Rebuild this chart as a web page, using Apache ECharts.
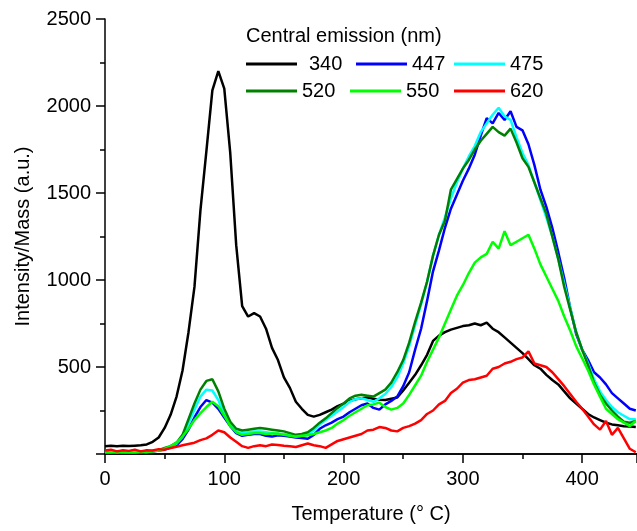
<!DOCTYPE html>
<html>
<head>
<meta charset="utf-8">
<script src="https://cdn.jsdelivr.net/npm/echarts@6/dist/echarts.min.js"></script>
<style>
html,body{margin:0;padding:0;background:#fff;}
#chart{width:637px;height:531px;}
</style>
</head>
<body>
<div id="chart"></div>
<script>
// temperature (°C)
var temps = [0,5,10,15,20,25,30,35,40,45,50,55,60,65,70,75,80,85,90,95,
  100,105,110,115,120,125,130,135,140,145,150,155,160,165,170,175,180,185,190,195,
  200,205,210,215,220,225,230,235,240,245,250,255,260,265,270,275,280,285,290,295,
  300,305,310,315,320,325,330,335,340,345,350,355,360,365,370,375,380,385,390,395,
  400,405,410,415,420,425,430,435,440,445];

// central emission 340 nm
var s340 = [45,48,45,47,46,48,50,55,70,95,150,225,330,480,700,960,1400,1740,2090,2200,
  2100,1730,1200,850,790,810,790,720,610,540,440,380,300,260,225,215,225,240,255,275,
  290,305,315,320,325,318,312,310,318,325,365,410,455,510,570,650,680,700,715,725,
  735,740,750,740,755,720,700,670,640,610,580,545,510,490,455,425,400,360,320,290,
  260,230,210,195,180,170,165,160,158,155];
// 447 nm
var s447 = [10,8,12,8,10,8,12,10,15,20,25,35,50,85,140,210,270,310,295,260,
  210,160,120,105,110,115,115,105,100,108,105,100,95,92,88,110,145,165,180,200,
  215,240,260,280,290,265,255,285,305,330,390,470,600,720,880,1050,1170,1300,1410,1490,
  1570,1640,1720,1830,1930,1900,1960,1920,1970,1880,1860,1780,1660,1520,1420,1300,1160,1010,840,690,
  600,540,470,440,400,350,320,290,260,250];
// 475 nm
var s475 = [12,10,15,10,12,10,15,12,18,22,30,40,60,100,175,255,330,370,365,310,
  230,170,130,120,125,130,130,125,120,115,115,108,100,105,110,135,170,195,220,245,
  270,300,315,320,310,300,320,345,385,440,520,620,740,860,990,1140,1260,1360,1470,1560,
  1640,1710,1770,1850,1900,1950,1990,1940,1920,1820,1730,1660,1560,1460,1360,1250,1120,980,840,700,
  600,520,430,360,310,270,240,220,200,200];
// 520 nm
var s520 = [15,10,12,8,10,12,15,12,18,22,35,45,65,110,200,290,370,420,430,360,
  260,185,145,135,140,145,150,145,140,135,130,120,110,115,125,150,180,205,235,265,
  290,320,335,340,335,330,350,370,410,470,540,640,760,870,990,1140,1260,1340,1520,1580,
  1640,1690,1750,1800,1840,1880,1850,1830,1870,1790,1700,1650,1560,1470,1380,1250,1120,960,830,700,
  600,510,410,340,290,250,215,185,180,190];
// 550 nm
var s550 = [10,12,8,12,10,12,10,12,15,20,30,45,65,100,145,195,235,270,300,275,
  220,160,125,110,115,120,120,115,118,118,110,105,100,105,108,115,125,135,150,175,
  195,220,240,260,280,285,295,270,255,265,290,340,395,450,530,600,670,750,830,910,
  970,1040,1100,1130,1150,1220,1180,1280,1200,1220,1240,1260,1180,1090,1020,950,880,790,710,620,
  550,480,400,330,260,230,200,180,160,190];
// 620 nm
var s620 = [20,25,15,22,18,25,15,22,20,28,25,35,42,50,58,65,80,90,110,135,
  125,95,70,45,35,45,50,45,55,52,48,45,40,50,60,50,45,35,55,75,
  85,95,105,115,135,140,155,150,135,130,150,160,175,195,230,250,285,305,350,375,
  410,425,430,440,450,490,500,520,530,545,555,590,520,510,500,470,430,390,345,300,
  260,215,170,140,190,110,150,90,30,10];

var names = ['340', '447', '475', '520', '550', '620'];
var colors = ['#000000', '#0000ff', '#00ffff', '#008000', '#00ff00', '#ff0000'];
var values = [s340, s447, s475, s520, s550, s620];

var font = "'Liberation Sans', Arial, sans-serif";

function pairs(arr){
  return temps.map(function(t, i){ return [t, arr[i]]; });
}

var series = names.map(function(n, i){
  return {
    name: n,
    type: 'line',
    showSymbol: false,
    symbol: 'none',
    data: pairs(values[i]),
    lineStyle: {color: colors[i], width: 2.5},
    itemStyle: {color: colors[i]},
    z: 2 + i
  };
});

// legend positions (two rows of three)
var legendPos = [
  {left: 246, top: 54, pad: 12},
  {left: 356, top: 54, pad: 5},
  {left: 454, top: 54, pad: 5},
  {left: 246, top: 81, pad: 5},
  {left: 350, top: 81, pad: 5},
  {left: 454, top: 81, pad: 5}
];
var legends = names.map(function(n, i){
  return {
    left: legendPos[i].left,
    top: legendPos[i].top,
    padding: 0,
    data: [n],
    icon: 'rect',
    itemWidth: 51,
    itemHeight: 3,
    selectedMode: false,
    textStyle: {fontSize: 20, color: '#000', fontFamily: font, padding: [0, 0, 0, legendPos[i].pad - 5]}
  };
});

var myChart = echarts.init(document.getElementById('chart'));
var option = {
  animation: false,
  backgroundColor: '#fff',
  title: {
    text: 'Central emission (nm)',
    left: 246,
    top: 26,
    padding: 0,
    textStyle: {fontSize: 20, fontWeight: 'normal', color: '#000', fontFamily: font}
  },
  legend: legends,
  grid: {left: 105, top: 19, right: 0, bottom: 77, containLabel: false},
  xAxis: [
    {
      type: 'value',
      min: 0,
      max: 446,
      interval: 100,
      name: 'Temperature (\u00b0 C)',
      nameLocation: 'middle',
      nameGap: 50,
      nameTextStyle: {fontSize: 20, color: '#000', fontFamily: font},
      axisLine: {show: true, onZero: false, lineStyle: {color: '#000', width: 1.5}},
      axisTick: {show: true, inside: false, length: 9, lineStyle: {color: '#000', width: 1.5}},
      minorTick: {show: true, splitNumber: 2, length: 5, lineStyle: {color: '#000', width: 1.5}},
      axisLabel: {fontSize: 20, color: '#000', fontFamily: font, margin: 15, showMaxLabel: false,
        formatter: function(v){ return String(v); }},
      splitLine: {show: false}
    },
    {
      type: 'value',
      position: 'top',
      min: 0,
      max: 446,
      axisLine: {show: true, lineStyle: {color: '#000', width: 1.5}},
      axisTick: {show: false},
      axisLabel: {show: false},
      splitLine: {show: false}
    }
  ],
  yAxis: {
    type: 'value',
    min: 0,
    max: 2500,
    interval: 500,
    name: 'Intensity/Mass (a.u.)',
    nameLocation: 'middle',
    nameGap: 72,
    nameTextStyle: {fontSize: 20, color: '#000', fontFamily: font},
    axisLine: {show: true, lineStyle: {color: '#000', width: 1.5}},
    axisTick: {show: true, inside: false, length: 9, lineStyle: {color: '#000', width: 1.5}},
    minorTick: {show: true, splitNumber: 2, length: 5, lineStyle: {color: '#000', width: 1.5}},
    axisLabel: {fontSize: 20, color: '#000', fontFamily: font, margin: 14, showMinLabel: false,
      formatter: function(v){ return String(v); }},
    splitLine: {show: false}
  },
  series: series
};
myChart.setOption(option);
</script>
</body>
</html>
